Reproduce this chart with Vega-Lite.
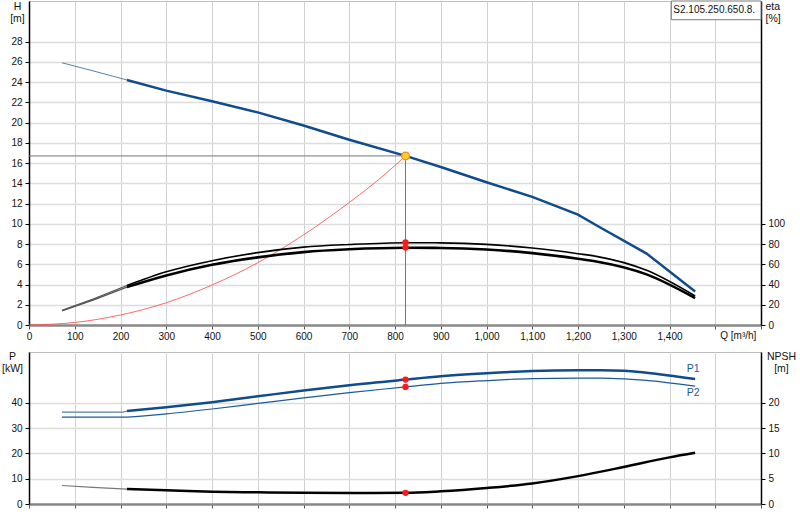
{
  "$schema": "https://vega.github.io/schema/vega-lite/v6.json",
  "padding": {"left": 1, "top": 0, "right": 0, "bottom": 0},
  "background": "white",
  "spacing": 27,
  "bounds": "flush",
  "config": {
    "font": "Liberation Sans",
    "view": {"stroke": "#bdbdbd", "strokeWidth": 1},
    "axis": {
      "labelFont": "Liberation Sans",
      "titleFont": "Liberation Sans",
      "labelFontSize": 10,
      "titleFontSize": 10.5,
      "titleFontWeight": "normal",
      "labelColor": "#111",
      "titleColor": "#111",
      "tickColor": "#000",
      "domainColor": "#000",
      "gridColor": "#d8d8d8",
      "labelOverlap": false
    }
  },
  "datasets": {
    "system": [
      {"Q": 0, "H": 0}, {"Q": 100, "H": 0.25}, {"Q": 200, "H": 0.99}, {"Q": 300, "H": 2.2},
      {"Q": 400, "H": 3.95}, {"Q": 500, "H": 6.15}, {"Q": 600, "H": 8.9}, {"Q": 700, "H": 12.1},
      {"Q": 760, "H": 14.2}, {"Q": 823, "H": 16.7}
    ],
    "head": [
      {"Q": 72, "H": 25.9, "seg": "thin"}, {"Q": 140, "H": 25.1, "seg": "thin"}, {"Q": 214, "H": 24.2, "seg": "thin"},
      {"Q": 214, "H": 24.2, "seg": "thick"}, {"Q": 300, "H": 23.15, "seg": "thick"}, {"Q": 400, "H": 22.1, "seg": "thick"},
      {"Q": 500, "H": 21.0, "seg": "thick"}, {"Q": 600, "H": 19.7, "seg": "thick"}, {"Q": 700, "H": 18.3, "seg": "thick"},
      {"Q": 823, "H": 16.7, "seg": "thick"}, {"Q": 900, "H": 15.6, "seg": "thick"}, {"Q": 1000, "H": 14.1, "seg": "thick"},
      {"Q": 1100, "H": 12.65, "seg": "thick"}, {"Q": 1200, "H": 10.9, "seg": "thick"}, {"Q": 1240, "H": 9.85, "seg": "thick"},
      {"Q": 1350, "H": 7.05, "seg": "thick"}, {"Q": 1456, "H": 3.3, "seg": "thick"}
    ],
    "eta": [
      {"Q": 72, "eta": 14.5, "curve": "eta1", "seg": "thin"}, {"Q": 140, "eta": 25.5, "curve": "eta1", "seg": "thin"}, {"Q": 214, "eta": 39.0, "curve": "eta1", "seg": "thin"},
      {"Q": 214, "eta": 39.0, "curve": "eta1", "seg": "thick"}, {"Q": 300, "eta": 52.5, "curve": "eta1", "seg": "thick"}, {"Q": 400, "eta": 63.5, "curve": "eta1", "seg": "thick"},
      {"Q": 500, "eta": 71.5, "curve": "eta1", "seg": "thick"}, {"Q": 600, "eta": 76.9, "curve": "eta1", "seg": "thick"}, {"Q": 700, "eta": 79.5, "curve": "eta1", "seg": "thick"},
      {"Q": 823, "eta": 81.3, "curve": "eta1", "seg": "thick"}, {"Q": 900, "eta": 81.1, "curve": "eta1", "seg": "thick"}, {"Q": 1000, "eta": 79.6, "curve": "eta1", "seg": "thick"},
      {"Q": 1100, "eta": 76.0, "curve": "eta1", "seg": "thick"}, {"Q": 1200, "eta": 70.4, "curve": "eta1", "seg": "thick"}, {"Q": 1240, "eta": 67.8, "curve": "eta1", "seg": "thick"},
      {"Q": 1350, "eta": 54.0, "curve": "eta1", "seg": "thick"}, {"Q": 1456, "eta": 28.6, "curve": "eta1", "seg": "thick"},
      {"Q": 72, "eta": 14.0, "curve": "eta2", "seg": "thin"}, {"Q": 140, "eta": 24.5, "curve": "eta2", "seg": "thin"}, {"Q": 214, "eta": 37.5, "curve": "eta2", "seg": "thin"},
      {"Q": 214, "eta": 37.5, "curve": "eta2", "seg": "thick"}, {"Q": 300, "eta": 49.0, "curve": "eta2", "seg": "thick"}, {"Q": 400, "eta": 59.5, "curve": "eta2", "seg": "thick"},
      {"Q": 500, "eta": 66.8, "curve": "eta2", "seg": "thick"}, {"Q": 600, "eta": 72.0, "curve": "eta2", "seg": "thick"}, {"Q": 700, "eta": 74.8, "curve": "eta2", "seg": "thick"},
      {"Q": 823, "eta": 76.3, "curve": "eta2", "seg": "thick"}, {"Q": 900, "eta": 76.1, "curve": "eta2", "seg": "thick"}, {"Q": 1000, "eta": 74.6, "curve": "eta2", "seg": "thick"},
      {"Q": 1100, "eta": 71.0, "curve": "eta2", "seg": "thick"}, {"Q": 1200, "eta": 65.5, "curve": "eta2", "seg": "thick"}, {"Q": 1240, "eta": 62.8, "curve": "eta2", "seg": "thick"},
      {"Q": 1350, "eta": 50.0, "curve": "eta2", "seg": "thick"}, {"Q": 1456, "eta": 26.6, "curve": "eta2", "seg": "thick"}
    ],
    "duty": [{"Q": 823, "H": 16.7, "Q0": 0, "H0": 0}],
    "etaPts": [{"Q": 823, "eta": 81.5}, {"Q": 823, "eta": 76.5}],
    "model": [{"name": "S2.105.250.650.8."}],
    "qTitle": [{"text": "Q [m³/h]"}],
    "power": [
      {"Q": 72, "P": 36.3, "curve": "P1", "seg": "thin"}, {"Q": 205, "P": 36.3, "curve": "P1", "seg": "thin"}, {"Q": 214, "P": 36.6, "curve": "P1", "seg": "thin"},
      {"Q": 214, "P": 36.7, "curve": "P1", "seg": "thick"}, {"Q": 300, "P": 38.2, "curve": "P1", "seg": "thick"}, {"Q": 400, "P": 40.2, "curve": "P1", "seg": "thick"},
      {"Q": 500, "P": 42.5, "curve": "P1", "seg": "thick"}, {"Q": 600, "P": 44.8, "curve": "P1", "seg": "thick"}, {"Q": 700, "P": 46.9, "curve": "P1", "seg": "thick"},
      {"Q": 823, "P": 49.1, "curve": "P1", "seg": "thick"}, {"Q": 900, "P": 50.4, "curve": "P1", "seg": "thick"}, {"Q": 1000, "P": 51.6, "curve": "P1", "seg": "thick"},
      {"Q": 1100, "P": 52.5, "curve": "P1", "seg": "thick"}, {"Q": 1200, "P": 52.8, "curve": "P1", "seg": "thick"}, {"Q": 1250, "P": 52.8, "curve": "P1", "seg": "thick"},
      {"Q": 1300, "P": 52.6, "curve": "P1", "seg": "thick"}, {"Q": 1350, "P": 51.8, "curve": "P1", "seg": "thick"}, {"Q": 1456, "P": 49.3, "curve": "P1", "seg": "thick"},
      {"Q": 72, "P": 34.3, "curve": "P2", "seg": "thin"}, {"Q": 200, "P": 34.3, "curve": "P2", "seg": "thin"}, {"Q": 300, "P": 35.6, "curve": "P2", "seg": "thin"},
      {"Q": 400, "P": 37.5, "curve": "P2", "seg": "thin"}, {"Q": 500, "P": 39.7, "curve": "P2", "seg": "thin"}, {"Q": 600, "P": 41.9, "curve": "P2", "seg": "thin"},
      {"Q": 700, "P": 44.0, "curve": "P2", "seg": "thin"}, {"Q": 823, "P": 46.2, "curve": "P2", "seg": "thin"}, {"Q": 900, "P": 47.6, "curve": "P2", "seg": "thin"},
      {"Q": 1000, "P": 48.7, "curve": "P2", "seg": "thin"}, {"Q": 1100, "P": 49.5, "curve": "P2", "seg": "thin"}, {"Q": 1200, "P": 49.7, "curve": "P2", "seg": "thin"},
      {"Q": 1250, "P": 49.7, "curve": "P2", "seg": "thin"}, {"Q": 1300, "P": 49.4, "curve": "P2", "seg": "thin"}, {"Q": 1350, "P": 48.8, "curve": "P2", "seg": "thin"},
      {"Q": 1456, "P": 46.5, "curve": "P2", "seg": "thin"}
    ],
    "powerPts": [{"Q": 823, "P": 49.1}, {"Q": 823, "P": 46.2}],
    "powerLabels": [{"Q": 1452, "P": 53.2, "label": "P1"}, {"Q": 1452, "P": 43.7, "label": "P2"}],
    "npsh": [
      {"Q": 72, "NPSH": 3.65, "seg": "thin"}, {"Q": 140, "NPSH": 3.3, "seg": "thin"}, {"Q": 214, "NPSH": 2.95, "seg": "thin"},
      {"Q": 214, "NPSH": 2.95, "seg": "thick"}, {"Q": 300, "NPSH": 2.7, "seg": "thick"}, {"Q": 400, "NPSH": 2.42, "seg": "thick"},
      {"Q": 500, "NPSH": 2.3, "seg": "thick"}, {"Q": 600, "NPSH": 2.2, "seg": "thick"}, {"Q": 700, "NPSH": 2.17, "seg": "thick"},
      {"Q": 823, "NPSH": 2.2, "seg": "thick"}, {"Q": 900, "NPSH": 2.5, "seg": "thick"}, {"Q": 1000, "NPSH": 3.15, "seg": "thick"},
      {"Q": 1100, "NPSH": 4.05, "seg": "thick"}, {"Q": 1200, "NPSH": 5.5, "seg": "thick"}, {"Q": 1300, "NPSH": 7.3, "seg": "thick"},
      {"Q": 1400, "NPSH": 9.2, "seg": "thick"}, {"Q": 1456, "NPSH": 10.1, "seg": "thick"}
    ],
    "npshPts": [{"Q": 823, "NPSH": 2.2}]
  },
  "vconcat": [
    {
      "width": 732,
      "height": 324,
      "resolve": {"scale": {"y": "independent"}},
      "layer": [
        {
          "layer": [
            {
              "data": {"name": "system"},
              "mark": {"type": "line", "color": "#ff4d4d", "strokeWidth": 1, "opacity": 0.85, "interpolate": "monotone"},
              "encoding": {
                "x": {
                  "field": "Q", "type": "quantitative", "title": null,
                  "scale": {"domain": [0, 1600], "nice": false},
                  "axis": {
                    "values": [0, 100, 200, 300, 400, 500, 600, 700, 800, 900, 1000, 1100, 1200, 1300, 1400, 1500, 1600],
                    "tickCount": 40,
                    "labelExpr": "datum.value >= 1500 ? ' ' : format(datum.value, ',')",
                    "labelFlush": false,
                    "labelOverlap": false,
                    "labelBound": false,
                    "title": null,
                    "domainColor": "#8a8a8a",
                    "domainWidth": 2.5,
                    "tickColor": "#555",
                    "tickSize": 4,
                    "labelPadding": 2,
                    "gridColor": "#cfd2d5",
                    "gridWidth": 1
                  }
                },
                "y": {
                  "field": "H", "type": "quantitative",
                  "scale": {"domain": [0, 32], "nice": false},
                  "axis": {
                    "values": [0, 2, 4, 6, 8, 10, 12, 14, 16, 18, 20, 22, 24, 26, 28],
                    "tickCount": 40,
                    "labelOverlap": false,
                    "labelFlush": false,
                    "labelBound": false,
                    "title": ["H", "[m]"],
                    "titleAngle": 0,
                    "titleAlign": "center",
                    "titleBaseline": "top",
                    "titleX": -12,
                    "titleY": 0,
                    "titleLineHeight": 12,
                    "domainColor": "#000",
                    "domainWidth": 1.5,
                    "tickSize": 4,
                    "labelPadding": 3,
                    "gridColor": "#dcdcdc",
                    "gridWidth": 1.5
                  }
                }
              }
            },
            {
              "mark": {"type": "rule", "color": "#dcdcdc", "strokeWidth": 1.5},
              "encoding": {"y": {"datum": 30, "type": "quantitative"}}
            },
            {
              "data": {"name": "head"},
              "transform": [{"filter": "datum.seg == 'thin'"}],
              "mark": {"type": "line", "color": "#5a7fa8", "strokeWidth": 1},
              "encoding": {
                "x": {"field": "Q", "type": "quantitative"},
                "y": {"field": "H", "type": "quantitative"}
              }
            },
            {
              "data": {"name": "head"},
              "transform": [{"filter": "datum.seg == 'thick'"}],
              "mark": {"type": "line", "color": "#0f4c8c", "strokeWidth": 2.5},
              "encoding": {
                "x": {"field": "Q", "type": "quantitative"},
                "y": {"field": "H", "type": "quantitative"}
              }
            },
            {
              "data": {"name": "duty"},
              "mark": {"type": "rule", "color": "#777", "strokeWidth": 1},
              "encoding": {
                "x": {"field": "Q0", "type": "quantitative"},
                "x2": {"field": "Q"},
                "y": {"field": "H", "type": "quantitative"}
              }
            },
            {
              "data": {"name": "duty"},
              "mark": {"type": "rule", "color": "#777", "strokeWidth": 1},
              "encoding": {
                "x": {"field": "Q", "type": "quantitative"},
                "y": {"field": "H0", "type": "quantitative"},
                "y2": {"field": "H"}
              }
            },
            {
              "data": {"name": "duty"},
              "mark": {"type": "point", "shape": "circle", "filled": true, "fill": "#ffd21f", "stroke": "#f08c28", "strokeWidth": 1.2, "size": 60, "opacity": 1},
              "encoding": {
                "x": {"field": "Q", "type": "quantitative"},
                "y": {"field": "H", "type": "quantitative"}
              }
            },
            {
              "data": {"name": "model"},
              "mark": {"type": "rect", "fill": "white", "stroke": "#7a7a7a", "strokeWidth": 1},
              "encoding": {
                "x": {"datum": 1404, "type": "quantitative"},
                "x2": {"datum": 1600},
                "y": {"datum": 30.15, "type": "quantitative"},
                "y2": {"datum": 32}
              }
            },
            {
              "data": {"name": "model"},
              "mark": {"type": "text", "align": "left", "baseline": "middle", "dx": 2, "fontSize": 10, "font": "Liberation Sans", "color": "#111"},
              "encoding": {
                "x": {"datum": 1404, "type": "quantitative"},
                "y": {"datum": 31.1, "type": "quantitative"},
                "text": {"field": "name"}
              }
            },
            {
              "data": {"name": "qTitle"},
              "mark": {"type": "text", "align": "left", "baseline": "top", "dx": 5, "dy": 6, "fontSize": 10, "font": "Liberation Sans", "color": "#111", "clip": false},
              "encoding": {
                "x": {"datum": 1500, "type": "quantitative"},
                "y": {"datum": 0, "type": "quantitative"},
                "text": {"field": "text"}
              }
            }
          ]
        },
        {
          "layer": [
            {
              "data": {"name": "eta"},
              "transform": [{"filter": "datum.seg == 'thin'"}],
              "mark": {"type": "line", "color": "#555", "strokeWidth": 1.3},
              "encoding": {
                "x": {"field": "Q", "type": "quantitative"},
                "y": {
                  "field": "eta", "type": "quantitative",
                  "scale": {"domain": [0, 320], "nice": false},
                  "axis": {
                    "orient": "right",
                    "values": [0, 20, 40, 60, 80, 100],
                    "tickCount": 40,
                    "labelOverlap": false,
                    "grid": false,
                    "title": ["eta", "[%]"],
                    "titleAngle": 0,
                    "titleAlign": "left",
                    "titleBaseline": "top",
                    "titleX": 4,
                    "titleY": 0,
                    "titleLineHeight": 12,
                    "domainColor": "#000",
                    "domainWidth": 1.5,
                    "tickSize": 4,
                    "labelPadding": 3
                  }
                },
                "detail": {"field": "curve"}
              }
            },
            {
              "data": {"name": "eta"},
              "transform": [{"filter": "datum.seg == 'thick' && datum.curve == 'eta1'"}],
              "mark": {"type": "line", "color": "#000", "strokeWidth": 1.6, "interpolate": "monotone"},
              "encoding": {
                "x": {"field": "Q", "type": "quantitative"},
                "y": {"field": "eta", "type": "quantitative"}
              }
            },
            {
              "data": {"name": "eta"},
              "transform": [{"filter": "datum.seg == 'thick' && datum.curve == 'eta2'"}],
              "mark": {"type": "line", "color": "#000", "strokeWidth": 2.6, "interpolate": "monotone"},
              "encoding": {
                "x": {"field": "Q", "type": "quantitative"},
                "y": {"field": "eta", "type": "quantitative"}
              }
            },
            {
              "data": {"name": "etaPts"},
              "mark": {"type": "point", "shape": "circle", "filled": true, "color": "#ff1a1a", "size": 40, "opacity": 1},
              "encoding": {
                "x": {"field": "Q", "type": "quantitative"},
                "y": {"field": "eta", "type": "quantitative"}
              }
            }
          ]
        }
      ]
    },
    {
      "width": 732,
      "height": 152,
      "resolve": {"scale": {"y": "independent"}},
      "layer": [
        {
          "layer": [
            {
              "data": {"name": "power"},
              "transform": [{"filter": "datum.curve == 'P2'"}],
              "mark": {"type": "line", "color": "#1b5a9a", "strokeWidth": 1.2, "interpolate": "monotone"},
              "encoding": {
                "x": {
                  "field": "Q", "type": "quantitative", "title": null,
                  "scale": {"domain": [0, 1600], "nice": false},
                  "axis": {
                    "values": [0, 100, 200, 300, 400, 500, 600, 700, 800, 900, 1000, 1100, 1200, 1300, 1400, 1500, 1600],
                    "tickCount": 40,
                    "labels": false,
                    "title": null,
                    "domainColor": "#8a8a8a",
                    "domainWidth": 2.5,
                    "tickColor": "#555",
                    "tickSize": 4,
                    "gridColor": "#cfd2d5",
                    "gridWidth": 1
                  }
                },
                "y": {
                  "field": "P", "type": "quantitative",
                  "scale": {"domain": [0, 60], "nice": false},
                  "axis": {
                    "values": [0, 10, 20, 30, 40],
                    "tickCount": 40,
                    "labelOverlap": false,
                    "labelFlush": false,
                    "labelBound": false,
                    "title": ["P", "[kW]"],
                    "titleAngle": 0,
                    "titleAlign": "center",
                    "titleBaseline": "top",
                    "titleX": -17,
                    "titleY": -1,
                    "titleLineHeight": 12,
                    "domainColor": "#000",
                    "domainWidth": 1.5,
                    "tickSize": 4,
                    "labelPadding": 3,
                    "gridColor": "#dcdcdc",
                    "gridWidth": 1.5
                  }
                }
              }
            },
            {
              "mark": {"type": "rule", "color": "#dcdcdc", "strokeWidth": 1.5},
              "encoding": {"y": {"datum": 50, "type": "quantitative"}}
            },
            {
              "data": {"name": "power"},
              "transform": [{"filter": "datum.curve == 'P1' && datum.seg == 'thin'"}],
              "mark": {"type": "line", "color": "#5a7fa8", "strokeWidth": 1.2},
              "encoding": {
                "x": {"field": "Q", "type": "quantitative"},
                "y": {"field": "P", "type": "quantitative"}
              }
            },
            {
              "data": {"name": "power"},
              "transform": [{"filter": "datum.curve == 'P1' && datum.seg == 'thick'"}],
              "mark": {"type": "line", "color": "#0f4c8c", "strokeWidth": 2.5, "interpolate": "monotone"},
              "encoding": {
                "x": {"field": "Q", "type": "quantitative"},
                "y": {"field": "P", "type": "quantitative"}
              }
            },
            {
              "data": {"name": "powerPts"},
              "mark": {"type": "point", "shape": "circle", "filled": true, "color": "#ff1a1a", "size": 40, "opacity": 1},
              "encoding": {
                "x": {"field": "Q", "type": "quantitative"},
                "y": {"field": "P", "type": "quantitative"}
              }
            },
            {
              "data": {"name": "powerLabels"},
              "mark": {"type": "text", "align": "center", "baseline": "middle", "fontSize": 10.5, "font": "Liberation Sans", "color": "#1b5a9a"},
              "encoding": {
                "x": {"field": "Q", "type": "quantitative"},
                "y": {"field": "P", "type": "quantitative"},
                "text": {"field": "label"}
              }
            }
          ]
        },
        {
          "layer": [
            {
              "data": {"name": "npsh"},
              "transform": [{"filter": "datum.seg == 'thin'"}],
              "mark": {"type": "line", "color": "#777", "strokeWidth": 1.2},
              "encoding": {
                "x": {"field": "Q", "type": "quantitative"},
                "y": {
                  "field": "NPSH", "type": "quantitative",
                  "scale": {"domain": [0, 30], "nice": false},
                  "axis": {
                    "orient": "right",
                    "values": [0, 5, 10, 15, 20],
                    "tickCount": 40,
                    "labelOverlap": false,
                    "labelFlush": false,
                    "labelBound": false,
                    "grid": false,
                    "title": ["NPSH", "[m]"],
                    "titleAngle": 0,
                    "titleAlign": "center",
                    "titleBaseline": "top",
                    "titleX": 20,
                    "titleY": -1,
                    "titleLineHeight": 12,
                    "domainColor": "#000",
                    "domainWidth": 1.5,
                    "tickSize": 4,
                    "labelPadding": 3
                  }
                }
              }
            },
            {
              "data": {"name": "npsh"},
              "transform": [{"filter": "datum.seg == 'thick'"}],
              "mark": {"type": "line", "color": "#000", "strokeWidth": 2.5, "interpolate": "monotone"},
              "encoding": {
                "x": {"field": "Q", "type": "quantitative"},
                "y": {"field": "NPSH", "type": "quantitative"}
              }
            },
            {
              "data": {"name": "npshPts"},
              "mark": {"type": "point", "shape": "circle", "filled": true, "color": "#ff1a1a", "size": 40, "opacity": 1},
              "encoding": {
                "x": {"field": "Q", "type": "quantitative"},
                "y": {"field": "NPSH", "type": "quantitative"}
              }
            }
          ]
        }
      ]
    }
  ]
}
